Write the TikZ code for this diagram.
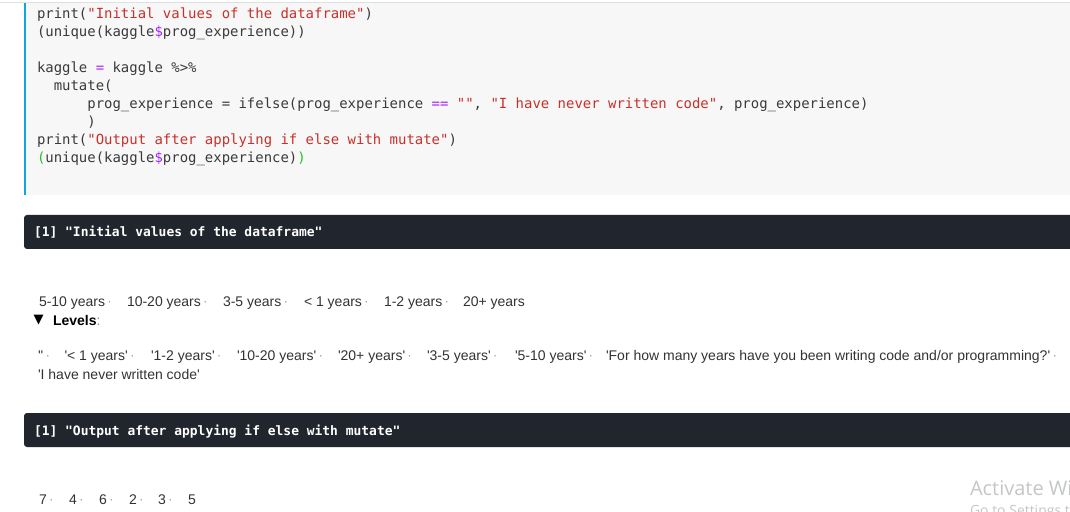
\documentclass[tikz,border=0pt]{standalone}
\usepackage{fontspec}
\newfontfamily\itemfont{Liberation Sans}
\newfontfamily\codefont{DejaVu Sans Mono}
\newfontfamily\symfont{DejaVu Sans}
\newfontfamily\winfont{Open Sans}
\definecolor{codebg}{HTML}{F7F7F7}
\definecolor{codeink}{HTML}{3A3A3A}
\definecolor{strink}{HTML}{C9302C}
\definecolor{opink}{HTML}{A626F5}
\definecolor{parink}{HTML}{22C322}
\definecolor{barblue}{HTML}{0EA5E0}
\definecolor{darkbar}{HTML}{21252D}
\definecolor{rulegray}{HTML}{E0E0E0}
\definecolor{textink}{HTML}{333333}
\definecolor{dotink}{HTML}{8A8A8A}
\definecolor{wingray}{HTML}{C4C6C8}
\newcommand{\Str}[1]{\textcolor{strink}{#1}}
\newcommand{\Op}[1]{\textcolor{opink}{#1}}
\newcommand{\Par}[1]{\textcolor{parink}{#1}}
\newcommand{\Sep}{\hspace{2.5bp}\raisebox{1bp}{\textcolor{dotink}{\fontsize{12bp}{12bp}\selectfont ·}}}
\tikzset{
  x=1bp,y=-1bp,
  codeline/.style={anchor=base west,inner sep=0pt,outer sep=0pt,text=codeink,font=\codefont\fontsize{13.95bp}{16bp}\selectfont},
  outline/.style={anchor=base west,inner sep=0pt,outer sep=0pt,text=white,font=\codefont\bfseries\fontsize{12.95bp}{15bp}\selectfont},
  item/.style={anchor=base west,inner sep=0pt,outer sep=0pt,text=textink,font=\itemfont\fontsize{14bp}{16bp}\selectfont},
  darkbox/.style={fill=darkbar,draw=none,rounded corners=3bp},
  win/.style={anchor=base west,inner sep=0pt,outer sep=0pt,text=wingray,font=\winfont\fontsize{20bp}{22bp}\selectfont},
}
\begin{document}
\begin{tikzpicture}
\useasboundingbox (0,0) rectangle (1070,512);
\clip (0,0) rectangle (1070,512);
\fill[white] (0,0) rectangle (1070,512);
\fill[rulegray] (0,2) rectangle (1070,3);
\fill[codebg] (24,3) rectangle (1070,195);
\fill[barblue] (24,3) rectangle (26,195);

\node[codeline] (c1) at (37,18.5) {print(\Str{"Initial values of the dataframe"})};
\node[codeline] (c2) at (37,36.5) {(unique(kaggle\Op{\$}prog\_experience))};
\node[codeline] (c3) at (37,72.5) {kaggle \Op{=} kaggle \%>\%};
\node[codeline] (c4) at (53.8,90.5) {mutate(};
\node[codeline] (c5) at (87.4,108.5) {prog\_experience = ifelse(prog\_experience \Op{==} \Str{""}, \Str{"I have never written code"}, prog\_experience)};
\node[codeline] (c6) at (87.4,126.5) {)};
\node[codeline] (c7) at (37,144.5) {print(\Str{"Output after applying if else with mutate"})};
\node[codeline] (c8) at (37,162.5) {\Par{(}unique(kaggle\Op{\$}prog\_experience)\Par{)}};

\fill[darkbox] (24,215) rectangle (1090,249);
\node[outline] (o1) at (34,237) {[1] "Initial values of the dataframe"};

\node[item] (a1) at (39,306.5) {5-10 years\Sep};
\node[item] (a2) at (127,306.5) {10-20 years\Sep};
\node[item] (a3) at (223,306.5) {3-5 years\Sep};
\node[item] (a4) at (304,306.5) {< 1 years\Sep};
\node[item] (a5) at (384,306.5) {1-2 years\Sep};
\node[item] (a6) at (463,306.5) {20+ years};

\node[item,text=black,font=\symfont\fontsize{13bp}{14bp}\selectfont] (tri) at (33.5,324) {▼};
\node[item,text=black] (lev) at (53,325.5) {\textbf{Levels}\textcolor{dotink}{:}};

\node[item] (b0) at (38,360.5) {''\Sep};
\node[item] (b1) at (64.5,360.5) {'< 1 years'\Sep};
\node[item] (b2) at (151,360.5) {'1-2 years'\Sep};
\node[item] (b3) at (237,360.5) {'10-20 years'\Sep};
\node[item] (b4) at (338,360.5) {'20+ years'\Sep};
\node[item] (b5) at (427,360.5) {'3-5 years'\Sep};
\node[item] (b6) at (515,360.5) {'5-10 years'\Sep};
\node[item] (b7) at (606,360.5) {'For how many years have you been writing code and/or programming?'\Sep};
\node[item] (b8) at (38,379.5) {'I have never written code'};

\fill[darkbox] (24,413) rectangle (1090,447);
\node[outline] (o2) at (34,435) {[1] "Output after applying if else with mutate"};

\node[item] (n1) at (39,504) {7\Sep};
\node[item] (n2) at (69,504) {4\Sep};
\node[item] (n3) at (99,504) {6\Sep};
\node[item] (n4) at (129,504) {2\Sep};
\node[item] (n5) at (158,504) {3\Sep};
\node[item] (n6) at (188,504) {5};

\node[win] (w1) at (970,495) {Activate Wi};
\node[win,font=\winfont\fontsize{14bp}{16bp}\selectfont] (w2) at (970,515.5) {Go to Settings t};
\end{tikzpicture}
\end{document}
